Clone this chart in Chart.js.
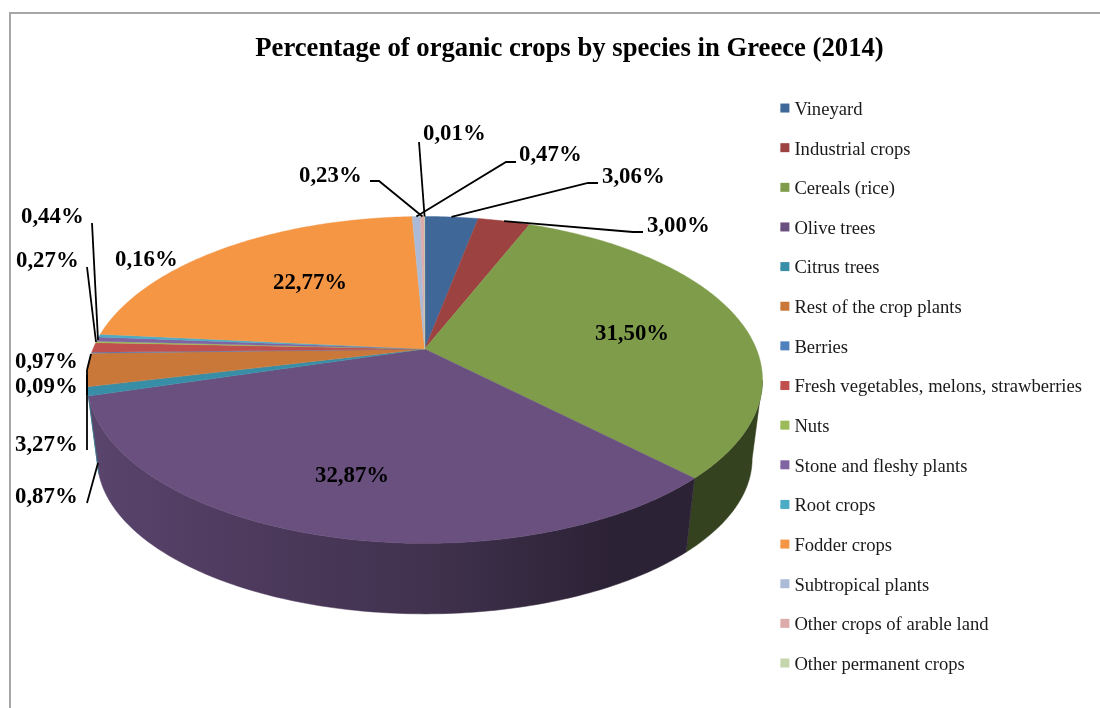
<!DOCTYPE html>
<html>
<head>
<meta charset="utf-8">
<title>Organic crops in Greece (2014)</title>
<script src="https://cdn.jsdelivr.net/npm/chart.js@4/dist/chart.umd.min.js"></script>
<style>
  html, body { margin: 0; padding: 0; background: #fff; overflow: hidden; }
  #frame { position: absolute; left: 9px; top: 12px; right: 0; bottom: 0; border-left: 2px solid #a6a6a6; border-top: 2px solid #a6a6a6; }
  #cropChart { position: absolute; left: 0; top: 0; }
</style>
</head>
<body>
<div id="frame"></div>
<canvas id="cropChart" width="1100" height="708"></canvas>
<script>
const chartTitle = 'Percentage of organic crops by species in Greece (2014)';
const categories = [
  'Vineyard', 'Industrial crops', 'Cereals (rice)', 'Olive trees', 'Citrus trees',
  'Rest of the crop plants', 'Berries', 'Fresh vegetables, melons, strawberries', 'Nuts',
  'Stone and fleshy plants', 'Root crops', 'Fodder crops', 'Subtropical plants',
  'Other crops of arable land', 'Other permanent crops'
];
const shares = [3.06, 3.00, 31.50, 32.87, 0.87, 3.27, 0.09, 0.97, 0.16, 0.44, 0.27, 22.77, 0.47, 0.23, 0.01];
const sliceColors = [
  '#3f6899', '#9c4240', '#7f9c4b', '#69507f', '#388ea6',
  '#c9783a', '#4f81bd', '#c0504d', '#9bbb59', '#8064a2',
  '#4bacc6', '#f59645', '#aabad7', '#dcabaa', '#c6d6ac'
];

// where the value labels sit: left edge, middle of the text
const labelSpots = [
  [602, 177], [647, 226], [595, 334], [315, 476], [15, 497],
  [15, 445], [15, 387], [15, 362], [115, 260], [21, 217],
  [16, 261], [273, 283], [519, 155], [299, 176], [423, 134]
];
// leader lines from the label towards the pie, 'rim' = finish on the slice's edge
const leaders = [
  [[598, 183], [588, 183], 'rim'],
  [[643, 232], [633, 232], 'rim'],
  null,
  null,
  [[87, 503], [98, 463]],
  [[87, 450], [87, 375]],
  [[87, 395], [87, 370]],
  [[87, 370], [91, 354]],
  null,
  [[92, 223], [98, 340]],
  [[87, 267], [96, 342]],
  null,
  [[516, 162], [506, 162], 'rim'],
  [[370, 181], [379, 181], 'rim'],
  [[419, 142], 'rim']
];

// perspective of the tilted disc, in units of the pie radius
const tilt = 0.189;
const apexShift = { x: 21.5, y: -38.5 };
const topDisc = { x: 1.0616, y: 0.5044, dy: 0 };
const bottomDisc = { x: 1.029, y: 0.479, dy: 0.257 };
const wallStart = 0.19;
const wallEnd = Math.PI - 0.235;
const wallShade = [[0, 0.86], [0.24, 0.73], [0.5, 0.62], [0.77, 0.42], [1, 0.42]];

function shade(hex, f) {
  const n = parseInt(hex.slice(1), 16);
  const r = Math.round((n >> 16) * f);
  const g = Math.round(((n >> 8) & 255) * f);
  const b = Math.round((n & 255) * f);
  return `rgb(${r},${g},${b})`;
}

function discPoint(el, disc, angle) {
  const w = 1 - tilt * Math.sin(angle);
  return {
    x: el.x + apexShift.x + disc.x * el.outerRadius * Math.cos(angle) / w,
    y: el.y + apexShift.y + disc.dy * el.outerRadius + disc.y * el.outerRadius * Math.sin(angle) / w
  };
}

function traceRim(ctx, el, disc, from, to) {
  const steps = Math.max(2, Math.ceil(Math.abs(to - from) / 0.015));
  for (let i = 0; i <= steps; i++) {
    const p = discPoint(el, disc, from + (to - from) * i / steps);
    ctx.lineTo(p.x, p.y);
  }
}

function drawWall(ctx, el, color) {
  // angles of the arc elements run from -PI/2 to 3PI/2
  const from = Math.max(el.startAngle, wallStart);
  const to = Math.min(el.endAngle, wallEnd);
  if (to <= from) return;
  const left = el.x + apexShift.x - topDisc.x * el.outerRadius * 1.02;
  const right = el.x + apexShift.x + topDisc.x * el.outerRadius * 1.02;
  const grad = ctx.createLinearGradient(left, 0, right, 0);
  wallShade.forEach(s => grad.addColorStop(s[0], shade(color, s[1])));
  ctx.beginPath();
  traceRim(ctx, el, topDisc, from, to);
  traceRim(ctx, el, bottomDisc, to, from);
  ctx.closePath();
  ctx.fillStyle = grad;
  ctx.strokeStyle = grad;
  ctx.lineWidth = 0.5;
  ctx.fill();
  ctx.stroke();
}

function drawTop(ctx, el, color) {
  ctx.beginPath();
  ctx.moveTo(el.x + apexShift.x, el.y + apexShift.y);
  traceRim(ctx, el, topDisc, el.startAngle, el.endAngle);
  ctx.closePath();
  ctx.fillStyle = color;
  ctx.strokeStyle = color;
  ctx.lineWidth = 0.4;
  ctx.fill();
  ctx.stroke();
}

const tiltedPie = {
  id: 'tiltedPie',
  beforeDatasetDraw(chart, args) {
    const ctx = chart.ctx;
    const arcs = args.meta.data;
    ctx.save();
    arcs.forEach((el, i) => drawWall(ctx, el, sliceColors[i]));
    arcs.forEach((el, i) => drawTop(ctx, el, sliceColors[i]));
    ctx.restore();
    return false; // the flat arcs are replaced by the tilted ones
  },
  afterDatasetsDraw(chart) {
    const ctx = chart.ctx;
    const arcs = chart.getDatasetMeta(0).data;
    ctx.save();
    // legend keys are tiny so the text sits close, draw the squares here
    chart.legend.legendHitBoxes.forEach((box, i) => {
      ctx.fillStyle = sliceColors[i];
      ctx.fillRect(box.left, box.top + box.height / 2 - 6.5, 9, 9);
    });
    ctx.strokeStyle = '#000';
    ctx.lineWidth = 1.8;
    leaders.forEach((path, i) => {
      if (!path) return;
      const el = arcs[i];
      ctx.beginPath();
      path.forEach((pt, k) => {
        const p = pt === 'rim' ? discPoint(el, topDisc, (el.startAngle + el.endAngle) / 2) : { x: pt[0], y: pt[1] };
        if (k === 0) ctx.moveTo(p.x, p.y); else ctx.lineTo(p.x, p.y);
      });
      ctx.stroke();
    });
    ctx.fillStyle = '#000';
    ctx.font = 'bold 22.8px "Liberation Serif"';
    ctx.textBaseline = 'middle';
    ctx.textAlign = 'left';
    shares.forEach((v, i) => {
      ctx.fillText(v.toFixed(2).replace('.', ',') + '%', labelSpots[i][0], labelSpots[i][1]);
    });
    ctx.restore();
  }
};

new Chart(document.getElementById('cropChart'), {
  type: 'pie',
  data: {
    labels: categories,
    datasets: [{ data: shares, backgroundColor: sliceColors, borderWidth: 0 }]
  },
  options: {
    responsive: false,
    animation: false,
    layout: { padding: { left: 47, right: 8, top: 13, bottom: 8 } },
    plugins: {
      title: {
        display: true,
        text: chartTitle,
        color: '#000',
        font: { family: '"Liberation Serif"', size: 26.7, weight: 'bold' },
        padding: { top: 20, bottom: 10 }
      },
      legend: {
        position: 'right',
        fullSize: false,
        labels: {
          boxWidth: 4.7,
          boxHeight: 1,
          padding: 21.04,
          color: '#1a1a1a',
          font: { family: '"Liberation Serif"', size: 18.6 }
        }
      },
      tooltip: { enabled: false }
    }
  },
  plugins: [tiltedPie]
});
</script>
</body>
</html>
